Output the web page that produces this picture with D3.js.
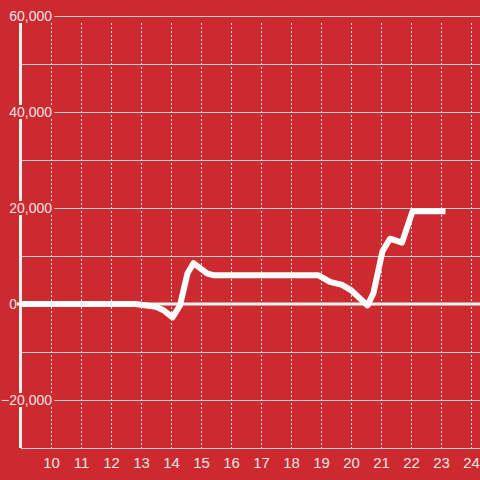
<!DOCTYPE html>
<html>
<head>
<meta charset="utf-8">
<script src="https://d3js.org/d3.v7.min.js"></script>
<style>
  html, body { margin: 0; padding: 0; background: #cc2a2f; }
  svg { display: block; font-family: "Liberation Sans", Arial, sans-serif; }
</style>
</head>
<body>
<div id="chart"></div>
<script>
// data
const xVals = [9, 12.8, 13.2, 13.5, 13.75, 14.05, 14.3, 14.55, 14.75, 15.2, 15.4, 18.9, 19.3, 19.7, 20.0, 20.55, 20.75, 21.05, 21.3, 21.7, 22.05, 23.15];
const yVals = [0, 0, -300, -600, -1300, -2800, -300, 6400, 8500, 6400, 6000, 6000, 4600, 4000, 2900, -300, 2300, 11000, 13600, 12800, 19300, 19300];
const xTicks = [10, 11, 12, 13, 14, 15, 16, 17, 18, 19, 20, 21, 22, 23, 24];
const yGrid = [-30000, -20000, -10000, 0, 10000, 20000, 30000, 40000, 50000, 60000];
const yLabels = [-20000, 0, 20000, 40000, 60000];

const width = 480, height = 480;
const bg = "#cc2a2f";
const textColor = "#f1e4e4";

const svg = d3.select("#chart").append("svg")
  .attr("width", width)
  .attr("height", height);

svg.append("rect").attr("width", width).attr("height", height).attr("fill", bg);

const x = d3.scaleLinear().domain([9, 24.3]).range([21, 480]);
const y = d3.scaleLinear().domain([-30000, 60000]).range([448, 16]);

// horizontal grid
svg.append("g")
  .selectAll("line")
  .data(yGrid.filter(d => d !== 0))
  .enter().append("line")
  .attr("x1", x(9)).attr("x2", width)
  .attr("y1", d => y(d) + 0.5).attr("y2", d => y(d) + 0.5)
  .attr("stroke", "#cfcfcf")
  .attr("stroke-width", 1);

// vertical dotted grid
svg.append("g")
  .selectAll("line")
  .data(xTicks)
  .enter().append("line")
  .attr("x1", d => Math.round(x(d)) + 0.5).attr("x2", d => Math.round(x(d)) + 0.5)
  .attr("y1", 23).attr("y2", y(-30000))
  .attr("stroke", "#e6e6e6")
  .attr("stroke-width", 1)
  .attr("stroke-dasharray", "2,2");

// y axis line
svg.append("line")
  .attr("x1", 20.5).attr("x2", 20.5)
  .attr("y1", y(60000)).attr("y2", y(-30000))
  .attr("stroke", "#f2f2f2")
  .attr("stroke-width", 3);

// y labels with background boxes
const fmt = d3.format(",");
const yl = svg.append("g").selectAll("g")
  .data(yLabels)
  .enter().append("g");

yl.each(function(d) {
  const g = d3.select(this);
  const tx = d === 0 ? 17 : 52;
  const t = g.append("text")
    .attr("x", tx)
    .attr("y", y(d))
    .attr("dy", "0.35em")
    .attr("text-anchor", "end")
    .attr("fill", textColor)
    .style("font-size", "14px")
    .text(fmt(d));
  if (d !== 0) {
    const bb = t.node().getBBox();
    g.insert("rect", "text")
      .attr("x", bb.x - 2)
      .attr("y", y(d) - 7)
      .attr("width", bb.width + 4)
      .attr("height", 14)
      .attr("fill", bg);
  }
});

// zero line
svg.append("line")
  .attr("x1", 17).attr("x2", width)
  .attr("y1", y(0)).attr("y2", y(0))
  .attr("stroke", "#f5f5f5")
  .attr("stroke-width", 3);

// x axis labels
const xAxis = svg.append("g")
  .attr("transform", "translate(0," + y(-30000) + ")")
  .call(d3.axisBottom(x).tickValues(xTicks).tickSize(0).tickPadding(9).tickFormat(d3.format("d")));
xAxis.select(".domain").remove();
xAxis.selectAll("text")
  .attr("fill", textColor)
  .style("font-size", "15px")
  .style("font-family", "'Liberation Sans', Arial, sans-serif");

// data line
const line = d3.line()
  .x((d, i) => x(xVals[i]))
  .y(d => y(d));

svg.append("path")
  .datum(yVals)
  .attr("d", line)
  .attr("fill", "none")
  .attr("stroke", "#ffffff")
  .attr("stroke-width", 6)
  .attr("stroke-linejoin", "round");
</script>
</body>
</html>
